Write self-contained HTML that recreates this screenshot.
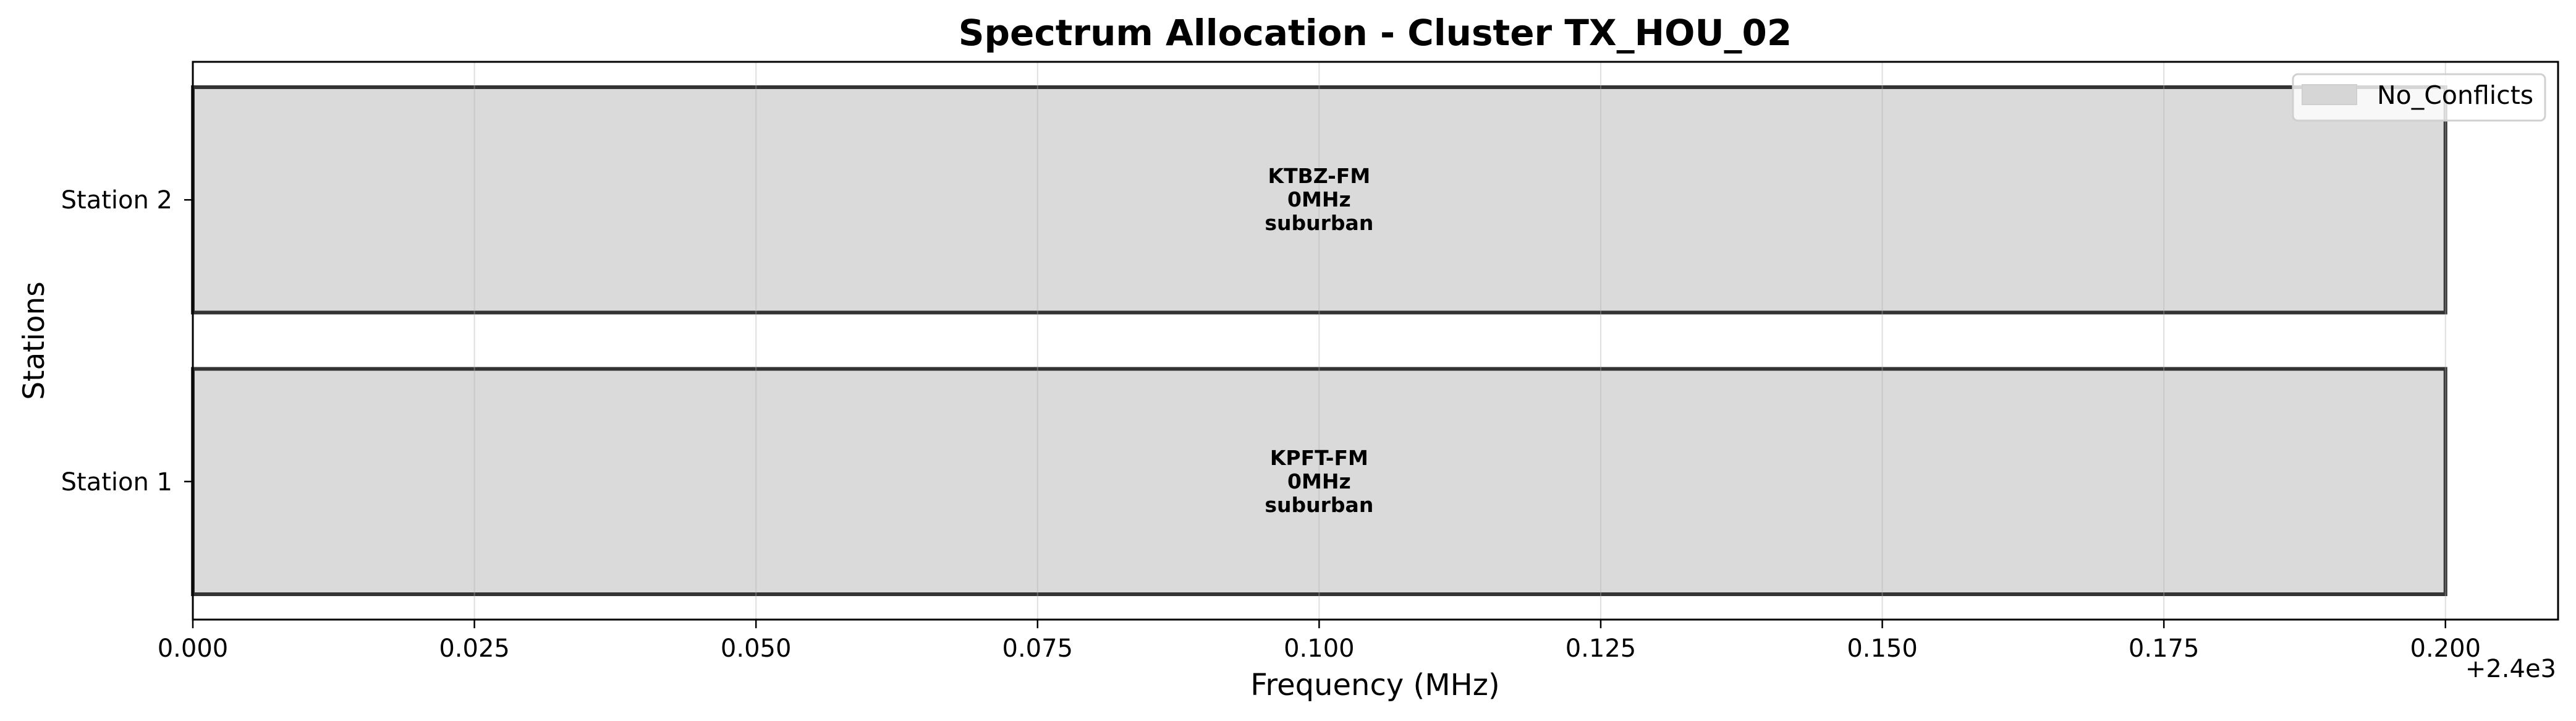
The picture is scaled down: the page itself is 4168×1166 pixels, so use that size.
<!DOCTYPE html>
<html><head><meta charset="utf-8"><style>
html,body{margin:0;padding:0;background:#fff;}
svg{display:block;font-family:"DejaVu Sans","Liberation Sans",sans-serif;}
</style></head><body>
<svg id="chart" width="4168" height="1166" viewBox="0 0 4168 1166" xmlns="http://www.w3.org/2000/svg">
<rect width="4168" height="1166" fill="#fff"/>
<text x="2225" y="73" text-anchor="middle" font-size="58" font-weight="bold">Spectrum Allocation - Cluster TX_HOU_02</text>
<g id="bars"></g>
<g id="grid"></g>
<g id="labels"></g>
<rect x="312" y="100" width="3827" height="902" fill="none" stroke="#000" stroke-width="3"/>
<g id="xticks"></g>
<g id="yticks"></g>
<text x="4136" y="1095" text-anchor="end" font-size="40">+2.4e3</text>
<text x="2225" y="1124" text-anchor="middle" font-size="48">Frequency (MHz)</text>
<text transform="translate(71,551) rotate(-90)" text-anchor="middle" font-size="47">Stations</text>
<g>
<rect x="3710" y="120" width="408" height="75" rx="8" fill="#fff" fill-opacity="0.8" stroke="#d0d0d0" stroke-width="3"/>
<rect x="3725" y="137" width="88" height="32" fill="#d6d6d6" stroke="#cfcfcf" stroke-width="2"/>
<text x="3846" y="168" font-size="41">No_Conflicts</text>
</g>
</svg>
<script>
const stations = ["Station 1", "Station 2"];
const callsigns = ["KPFT-FM", "KTBZ-FM"];
const startFreq = [0, 0];
const endFreq = [0.2, 0.2];
const bwLabels = ["0MHz", "0MHz"];
const zones = ["suburban", "suburban"];
const xTicks = [0, 0.025, 0.05, 0.075, 0.1, 0.125, 0.15, 0.175, 0.2];
const xTickLabels = ["0.000","0.025","0.050","0.075","0.100","0.125","0.150","0.175","0.200"];

const NS = "http://www.w3.org/2000/svg";
const X0 = 312, X1 = 4139, Y0 = 100, Y1 = 1002;
const xMin = 0, xMax = 0.21, yMin = -0.49, yMax = 1.49;
function xs(v){ return X0 + (v - xMin) / (xMax - xMin) * (X1 - X0); }
function ys(v){ return Y1 - (v - yMin) / (yMax - yMin) * (Y1 - Y0); }
function mk(tag, attrs, parent){ const e = document.createElementNS(NS, tag); for (const k in attrs) e.setAttribute(k, attrs[k]); parent.appendChild(e); return e; }

const bars = document.getElementById('bars');
const labels = document.getElementById('labels');
const bh = 0.8;
stations.forEach((s, i) => {
  const x = xs(startFreq[i]), w = xs(endFreq[i]) - x;
  const yt = ys(i + bh/2), yb = ys(i - bh/2);
  const r = mk('rect', {x: x, y: yt, width: w, height: yb - yt, fill: '#dadada', stroke: '#333', 'stroke-width': 6}, bars);
  
  
  const cx = xs((startFreq[i] + endFreq[i]) / 2), cy = ys(i);
  const lines = [callsigns[i], bwLabels[i], zones[i]];
  lines.forEach((t, j) => {
    const tx = mk('text', {x: cx, y: cy - 27 + j*38, 'text-anchor': 'middle', 'font-size': 33, 'font-weight': 'bold'}, labels);
    tx.textContent = t;
    
    
  });
});

const grid = document.getElementById('grid');
const xt = document.getElementById('xticks');
xTicks.forEach((v, i) => {
  const x = xs(v);
  const g = mk('line', {x1: x, x2: x, y1: Y0, y2: Y1, stroke: '#b0b0b0', 'stroke-opacity': 0.4, 'stroke-width': 2}, grid);
  
  
  const t = mk('line', {x1: x, x2: x, y1: Y1, y2: Y1 + 14, stroke: '#000', 'stroke-width': 2.5}, xt);
  
  
  const l = mk('text', {x: x, y: 1062, 'text-anchor': 'middle', 'font-size': 40}, xt);
  l.textContent = xTickLabels[i];
  
  
});

const yt = document.getElementById('yticks');
stations.forEach((s, i) => {
  const y = ys(i);
  const t = mk('line', {x1: X0 - 14, x2: X0, y1: y, y2: y, stroke: '#000', 'stroke-width': 2.5}, yt);
  
  
  const l = mk('text', {x: 279, y: y + 14, 'text-anchor': 'end', 'font-size': 40}, yt);
  l.textContent = s;
  
  
});
</script>
</body></html>
